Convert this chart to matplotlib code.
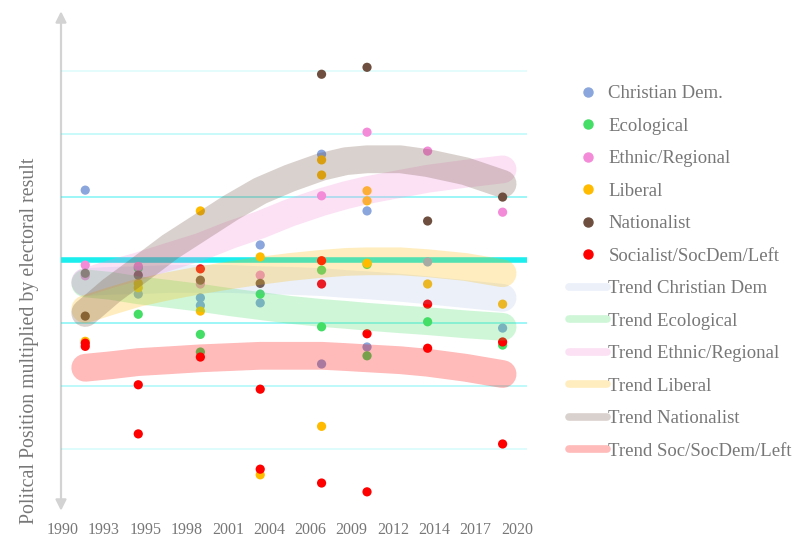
import matplotlib
matplotlib.use("Agg")
import matplotlib.pyplot as plt
from matplotlib.lines import Line2D
from matplotlib.patches import FancyArrowPatch

# scatter points: political position x electoral result (decimal election years)
cd_x = [1991.5, 1995.0, 1999.1, 1999.1, 2003.05, 2003.05, 2007.1, 2007.1, 2010.1, 2010.1, 2014.1, 2019.05]
cd_y = [1.11, -0.54, -0.60, -0.72, 0.24, -0.68, 1.68, -1.65, 0.78, -1.38, -0.03, -1.08]

eco_x = [1995.0, 1995.0, 1999.1, 1999.1, 2003.05, 2007.1, 2007.1, 2010.1, 2010.1, 2014.1, 2019.05]
eco_y = [-0.13, -0.86, -1.18, -1.46, -0.54, -0.16, -1.06, -0.07, -1.52, -0.98, -1.35]

eth_x = [1991.5, 1991.5, 1995.0, 1999.1, 2003.05, 2007.1, 2010.1, 2014.1, 2019.05]
eth_y = [-0.08, -0.25, -0.10, -0.38, -0.24, 1.02, 2.03, 1.73, 0.76]

lib_x = [1991.5, 1995.0, 1995.0, 1999.1, 1999.1, 2003.05, 2003.05, 2007.1, 2007.1, 2007.1,
         2010.1, 2010.1, 2010.1, 2014.1, 2019.05]
lib_y = [-1.29, -0.37, -0.44, 0.78, -0.81, 0.05, -3.41, 1.59, 1.35, -2.64, 1.10, 0.94, -0.05, -0.38, -0.70]

nat_x = [1991.5, 1991.5, 1995.0, 1999.1, 2003.05, 2007.1, 2010.1, 2014.1, 2019.05]
nat_y = [-0.21, -0.89, -0.24, -0.32, -0.37, 2.95, 3.06, 0.62, 1.00]

soc_x = [1991.5, 1991.5, 1995.0, 1995.0, 1999.1, 1999.1, 2003.05, 2003.05, 2007.1, 2007.1, 2007.1,
         2010.1, 2010.1, 2014.1, 2014.1, 2019.05, 2019.05]
soc_y = [-1.32, -1.37, -1.98, -2.76, -0.14, -1.54, -2.05, -3.32, -0.01, -0.38, -3.54,
         -1.17, -3.68, -0.70, -1.40, -1.30, -2.92]

# trend curves, centre at these years
trend_x = [1991.5, 1993.2, 1995.0, 1997.1, 1999.1, 2001.1, 2003.05, 2005.0,
           2007.1, 2008.7, 2010.1, 2012.3, 2014.1, 2016.6, 2019.05]
trend_cd = [-0.35, -0.33, -0.32, -0.30, -0.30, -0.30, -0.32, -0.33, -0.35, -0.38, -0.40, -0.44, -0.48, -0.54, -0.60]
trend_eco = [-0.37, -0.41, -0.48, -0.54, -0.60, -0.67, -0.73, -0.79, -0.84, -0.87, -0.90, -0.94, -0.97, -1.02, -1.06]
trend_eth = [-0.35, -0.22, -0.10, 0.06, 0.21, 0.40, 0.56, 0.75, 0.92, 1.03, 1.11, 1.21, 1.29, 1.37, 1.44]
trend_lib = [-0.78, -0.65, -0.52, -0.41, -0.32, -0.24, -0.17, -0.11, -0.06, -0.03, -0.02, -0.02, -0.05, -0.11, -0.21]
trend_nat = [-0.84, -0.49, -0.17, 0.21, 0.52, 0.83, 1.10, 1.30, 1.48, 1.57, 1.60, 1.60, 1.54, 1.41, 1.21]
trend_soc = [-1.71, -1.67, -1.62, -1.59, -1.56, -1.54, -1.52, -1.52, -1.52, -1.54, -1.56, -1.59, -1.63, -1.71, -1.81]

tick_pos = [1990 + i * 30 / 11 for i in range(12)]
tick_lbl = ["1990", "1993", "1995", "1998", "2001", "2004", "2006", "2009", "2012", "2014", "2017", "2020"]

SERIF = ["Liberation Serif", "DejaVu Serif"]
GREY = "#777777"

groups = [
    ("Christian Dem.", "Trend Christian Dem", "#8aa6dc", 0.17, cd_x, cd_y, trend_cd),
    ("Ecological", "Trend Ecological", "#44dd66", 0.25, eco_x, eco_y, trend_eco),
    ("Ethnic/Regional", "Trend Ethnic/Regional", "#f48bd8", 0.25, eth_x, eth_y, trend_eth),
    ("Liberal", "Trend Liberal", "#ffbb00", 0.25, lib_x, lib_y, trend_lib),
    ("Nationalist", "Trend Nationalist", "#6e4f3f", 0.26, nat_x, nat_y, trend_nat),
    ("Socialist/SocDem/Left", "Trend Soc/SocDem/Left", "#ff0000", 0.27, soc_x, soc_y, trend_soc),
]

fig = plt.figure(figsize=(8.09, 5.41), dpi=100)
ax = fig.add_axes([61 / 809, 1 - 512 / 541, 466 / 809, 502 / 541])
ax.set_xlim(1989.9, 2020.66); ax.set_ylim(-4.0, 3.97)

# grid
for y, a in [(3, 0.12), (2, 0.25), (1, 0.45), (-1, 0.45), (-2, 0.3), (-3, 0.15)]:
    ax.axhline(y, color="#00e8e8", lw=1.2, alpha=a, zorder=1)
ax.axhline(0, color="#1ceeee", lw=4, zorder=1)

for name, tname, col, alpha, xs, ys, tr in groups:
    ax.scatter(xs, ys, s=44, color=col, edgecolors="none", zorder=2)
for name, tname, col, alpha, xs, ys, tr in groups:
    ax.plot(trend_x, tr, color=col, alpha=alpha, lw=20, solid_capstyle="round",
            solid_joinstyle="round", zorder=3)

for s in ax.spines.values():
    s.set_visible(False)
ax.set_yticks([])
ax.set_xticks(tick_pos)
ax.set_xticklabels(tick_lbl, fontsize=11.5, color=GREY, family=SERIF)
ax.tick_params(axis="x", length=0, pad=7)

arrow = FancyArrowPatch((0, -0.003), (0, 1.003), transform=ax.transAxes, arrowstyle="<|-|>",
                        mutation_scale=16, color="#d3d3d3", lw=1.6, clip_on=False, zorder=0)
ax.add_patch(arrow)

fig.text(30 / 809, 1 - 341 / 541, "Politcal Position multiplied by electoral result", rotation=90,
         ha="center", va="center", fontsize=14.3, color=GREY, family=SERIF)

handles = []
for name, tname, col, alpha, xs, ys, tr in groups:
    handles.append(Line2D([], [], ls="none", marker="o", markersize=6.5, color=col, label=name))
for name, tname, col, alpha, xs, ys, tr in groups:
    handles.append(Line2D([], [], color=col, alpha=alpha, lw=5.5, solid_capstyle="round", label=tname))
fig.legend(handles=handles, loc="upper left", bbox_to_anchor=(569 / 809, 1 - 85 / 541), frameon=False,
           borderaxespad=0, borderpad=0, handlelength=2.0, handletextpad=0.1, labelspacing=0.82,
           prop={"family": SERIF, "size": 13.5}, labelcolor=GREY)

fig.savefig("out.png", dpi=100)
